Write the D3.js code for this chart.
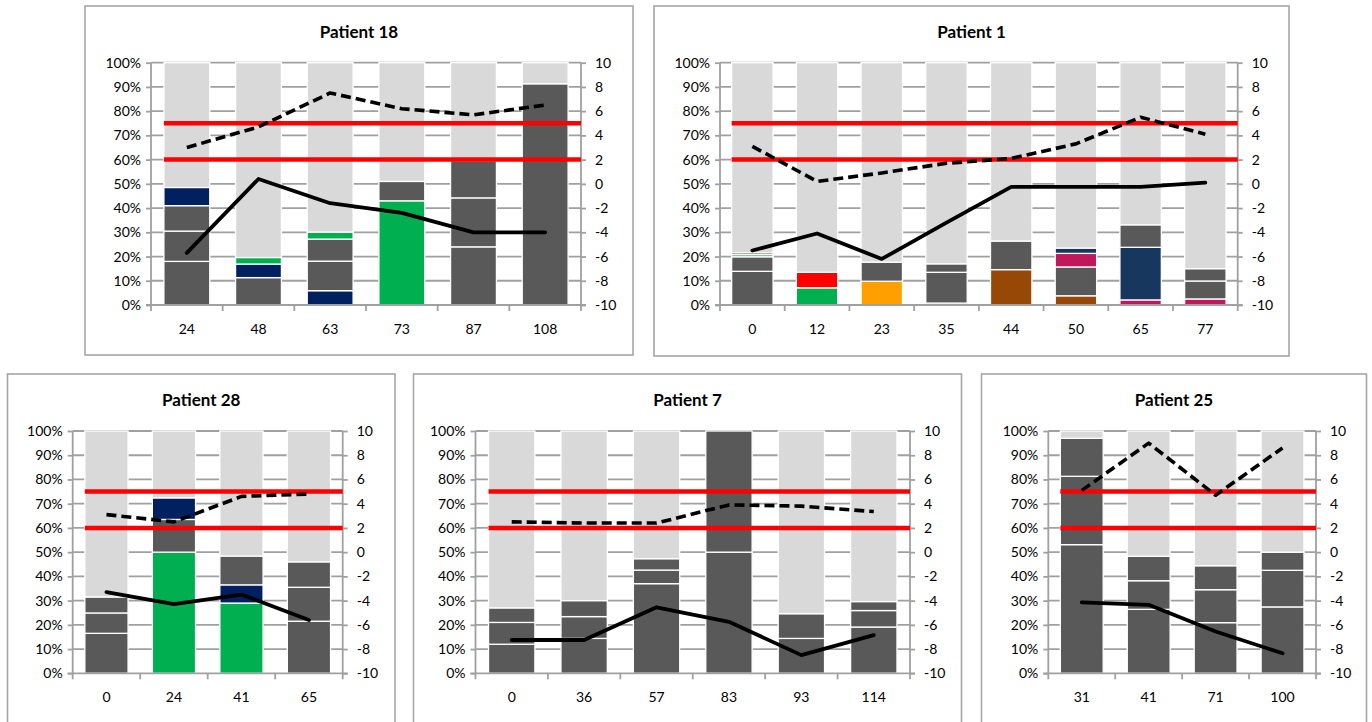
<!DOCTYPE html>
<html><head><meta charset="utf-8">
<script src="https://cdn.jsdelivr.net/npm/d3@7"></script>
<style>body{margin:0;background:#fff}svg{display:block}text{font-family:Lato,"Open Sans",sans-serif}</style>
</head><body><svg id="c" width="1372" height="722"></svg>
<script>
// ---------- DATA ----------
const leftTicks = [0,10,20,30,40,50,60,70,80,90,100];
const rightTicks = [-10,-8,-6,-4,-2,0,2,4,6,8,10];
const thresholds = [75, 60];
// segment codes: g = dark grey, n = navy, b = dark blue, G = green, r = red, o = orange, w = brown, m = magenta
// each bar: list of [code, cumulative top %]
const p18Categories = ["24","48","63","73","87","108"];
const p18Segments = [
  [["g",18],["g",30.5],["g",41],["n",48.5]],
  [["g",11.3],["n",16.9],["G",19.6]],
  [["n",5.9],["g",18.1],["g",27.2],["G",30.1]],
  [["G",43],["g",51]],
  [["g",24],["g",44.2],["g",59.6]],
  [["g",91.3]]
];
const p18Dashed = [3.0,4.7,7.5,6.2,5.7,6.5];
const p18Solid = [-5.7,0.4,-1.6,-2.4,-4.0,-4.0];

const p1Categories = ["0","12","23","35","44","50","65","77"];
const p1Segments = [
  [["g",13.9],["g",19.9],["G",20.8],["r",21.6]],
  [["G",7.1],["r",13.5]],
  [["o",9.8],["g",17.7]],
  [["g",0.8],["g",13.5],["g",17.0]],
  [["w",14.6],["g",26.4]],
  [["w",3.8],["g",15.7],["m",21.3],["b",23.5]],
  [["m",2.1],["b",23.8],["g",33.1]],
  [["m",2.5],["g",9.9],["g",15.0]]
];
const p1Dashed = [3.1,0.2,0.9,1.7,2.1,3.3,5.5,4.1];
const p1Solid = [-5.5,-4.1,-6.2,-3.2,-0.25,-0.25,-0.25,0.1];

const p28Categories = ["0","24","41","65"];
const p28Segments = [
  [["g",16.5],["g",24.9],["g",31.5]],
  [["G",50],["g",63.5],["n",72.4]],
  [["G",29],["n",36.5],["g",48.4]],
  [["g",21.5],["g",35.5],["g",46]]
];
const p28Dashed = [3.1,2.5,4.6,4.8];
const p28Solid = [-3.3,-4.3,-3.5,-5.6];

const p7Categories = ["0","36","57","83","93","114"];
const p7Segments = [
  [["g",12],["g",21],["g",27]],
  [["g",14.4],["g",23.4],["g",30]],
  [["g",37],["g",42.6],["g",47.3]],
  [["g",50],["g",100]],
  [["g",14.4],["g",24.6]],
  [["g",19.1],["g",25.9],["g",29.6]]
];
const p7Dashed = [2.5,2.4,2.4,3.9,3.8,3.35];
const p7Solid = [-7.25,-7.25,-4.55,-5.75,-8.5,-6.85];

const p25Categories = ["31","41","71","100"];
const p25Segments = [
  [["g",53.1],["g",81.3],["g",97]],
  [["g",26.4],["g",38.2],["g",48.3]],
  [["g",20.9],["g",34.5],["g",44.4]],
  [["g",27.4],["g",42.5],["g",50]]
];
const p25Dashed = [5.1,9.0,4.7,8.6];
const p25Solid = [-4.15,-4.35,-6.55,-8.35];

// ---------- STYLE ----------
const colors = {g:"#595959", n:"#002060", b:"#17375e", G:"#00b050", r:"#ff0000", o:"#ffa000", w:"#974706", m:"#c0185a"};
const restColor = "#d9d9d9";
const axisColor = "#a0a0a0";

const svg = d3.select("#c");

function panel(title, cats, segs, dashed, solid, L) {
  const g = svg.append("g");
  g.append("rect").attr("x",L.box[0]).attr("y",L.box[1]).attr("width",L.box[2]-L.box[0]).attr("height",L.box[3]-L.box[1])
    .attr("fill","#fff").attr("stroke","#a6a6a6").attr("stroke-width",1.6);
  g.append("text").attr("x",(L.box[0]+L.box[2])/2).attr("y",L.box[1]+32).attr("text-anchor","middle")
    .attr("font-size",17).attr("font-weight","bold").attr("fill","#000").text(title);

  const x = d3.scaleBand().domain(cats).range([L.left,L.right]).paddingInner(0.36).paddingOuter(0.18);
  const y = d3.scaleLinear().domain([0,100]).range([L.bottom,L.top]);
  const y2 = d3.scaleLinear().domain([-10,10]).range([L.bottom,L.top]);

  // gridlines
  g.selectAll(".grid").data(leftTicks.filter(t=>t>0)).join("line")
    .attr("x1",L.left).attr("x2",L.right).attr("y1",d=>y(d)).attr("y2",d=>y(d))
    .attr("stroke",axisColor).attr("stroke-width",1.8);

  // bars
  cats.forEach((c,i)=>{
    let prev = 0;
    const parts = segs[i].map(([k,top])=>{const p={k,y0:prev,y1:top}; prev=top; return p;});
    if (prev < 100) parts.push({k:null,y0:prev,y1:100});
    g.selectAll(null).data(parts).join("rect")
      .attr("x",x(c)).attr("width",x.bandwidth())
      .attr("y",d=>y(d.y1)).attr("height",d=>y(d.y0)-y(d.y1))
      .attr("fill",d=>d.k?colors[d.k]:restColor)
      .attr("stroke","#fff").attr("stroke-width",1.3);
  });

  // axes
  const la = d3.axisLeft(y).tickValues(leftTicks).tickFormat(d=>d+"%").tickSize(5).tickPadding(5);
  const ra = d3.axisRight(y2).tickValues(rightTicks).tickFormat(d=>d).tickSize(5).tickPadding(9);
  const xa = d3.axisBottom(x).tickSize(0).tickPadding(19);
  const style = sel => {
    sel.select(".domain").attr("stroke",axisColor).attr("stroke-width",1.8);
    sel.selectAll(".tick line").attr("stroke",axisColor).attr("stroke-width",1.8);
    sel.selectAll("text").attr("font-size",14).attr("fill","#000").attr("font-family","Lato, 'Open Sans', sans-serif");
  };
  g.append("g").attr("transform",`translate(${L.left},0)`).call(la).call(style).select(".domain").remove();
  g.append("g").attr("transform",`translate(${L.right},0)`).call(ra).call(style).select(".domain").remove();
  g.append("line").attr("x1",L.left).attr("x2",L.left).attr("y1",L.top).attr("y2",L.bottom).attr("stroke",axisColor).attr("stroke-width",1.8);
  g.append("line").attr("x1",L.right).attr("x2",L.right).attr("y1",L.top).attr("y2",L.bottom).attr("stroke",axisColor).attr("stroke-width",1.8);
  const xg = g.append("g").attr("transform",`translate(0,${L.bottom})`).call(xa).call(style);
  xg.select(".domain").remove();
  g.append("line").attr("x1",L.left-5).attr("x2",L.right+5).attr("y1",L.bottom).attr("y2",L.bottom).attr("stroke",axisColor).attr("stroke-width",1.8);
  // category boundary ticks
  const bounds = cats.map(c=>x(c)-x.step()*x.paddingInner()/2).concat([L.right]);
  g.selectAll(null).data(bounds).join("line")
    .attr("x1",d=>d).attr("x2",d=>d).attr("y1",L.bottom).attr("y2",L.bottom+6)
    .attr("stroke",axisColor).attr("stroke-width",1.8);

  // threshold lines
  g.selectAll(null).data(thresholds).join("line")
    .attr("x1",x(cats[0])).attr("x2",L.right).attr("y1",d=>y(d)).attr("y2",d=>y(d))
    .attr("stroke","#ff0000").attr("stroke-width",4.5);

  // lines
  const cx = c => x(c)+x.bandwidth()/2;
  const line = d3.line().x((d,i)=>cx(cats[i])).y(d=>y2(d));
  g.append("path").attr("d",line(dashed)).attr("fill","none").attr("stroke","#000")
    .attr("stroke-width",3.6).attr("stroke-dasharray","10,5").attr("stroke-linejoin","round");
  g.append("path").attr("d",line(solid)).attr("fill","none").attr("stroke","#000")
    .attr("stroke-width",3.8).attr("stroke-linejoin","round").attr("stroke-linecap","round");
}

panel("Patient 18", p18Categories, p18Segments, p18Dashed, p18Solid,
  {box:[85,6,633,355], left:151, right:581, top:62.7, bottom:305});
panel("Patient 1", p1Categories, p1Segments, p1Dashed, p1Solid,
  {box:[654,6,1289,356], left:720, right:1237.7, top:62.7, bottom:305});
panel("Patient 28", p28Categories, p28Segments, p28Dashed, p28Solid,
  {box:[7.5,374,395,740], left:72.7, right:342.7, top:431, bottom:673.3});
panel("Patient 7", p7Categories, p7Segments, p7Dashed, p7Solid,
  {box:[413.5,374,961.5,740], left:475.5, right:910, top:431, bottom:673.3});
panel("Patient 25", p25Categories, p25Segments, p25Dashed, p25Solid,
  {box:[981.5,374,1366.5,740], left:1048.3, right:1316, top:431, bottom:673.3});
</script></body></html>
